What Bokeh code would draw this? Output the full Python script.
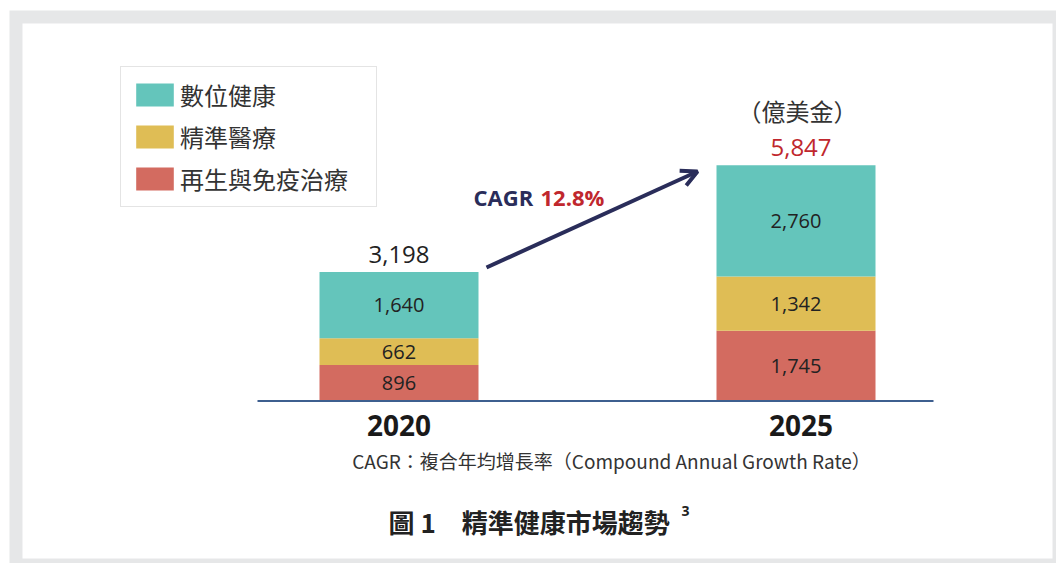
from bokeh.plotting import figure
from bokeh.models import Range1d, ColumnDataSource, Arrow, OpenHead, Legend, LegendItem
from bokeh.core.properties import value
from bokeh.embed import file_html
from bokeh.resources import INLINE

# ---------------- data ----------------
years = ["2020", "2025"]
digital = [1640, 2760]       # 數位健康
precision = [662, 1342]      # 精準醫療
regen = [896, 1745]          # 再生與免疫治療
series_names = ["數位健康", "精準醫療", "再生與免疫治療"]
unit_label = "（億美金）"
cagr_label = "CAGR"
cagr_value = "12.8%"
note = "CAGR：複合年均增長率（Compound Annual Growth Rate）"
title_text = "圖 1　精準健康市場趨勢"
title_sup = "3"

# ---------------- layout helpers (pixel -> data) ----------------
W, H = 1056, 563
PX_PER_UNIT = 0.0403
BASE_PX = 400.5
X0_PX, STEP_PX = 398.5, 397.0

def X(px):
    return (px - X0_PX) / STEP_PX

def Y(py):
    return (BASE_PX - py) / PX_PER_UNIT

CJK_S = "'Noto Sans CJK TC', 'Open Sans'"
LAT_S = "'Open Sans', 'Noto Sans CJK TC'"
CJK = value(CJK_S)
LAT = value(LAT_S)

teal, yellow, red = "#64c5bb", "#dfbd55", "#d36b60"

p = figure(width=W, height=H, output_backend="svg", toolbar_location=None,
           x_range=Range1d(X(0), X(W)), y_range=Range1d(Y(H), Y(0)),
           min_border=0, outline_line_color=None)
p.axis.visible = False
p.grid.visible = False
p.background_fill_color = "white"
p.border_fill_color = "white"

# grey frame
p.quad(left=X(9), right=X(W + 20), top=Y(10), bottom=Y(H + 20), fill_color="#e6e7e8", line_color=None)
p.quad(left=X(22), right=X(1052), top=Y(23), bottom=Y(558), fill_color="white", line_color=None)

# bars
xs = list(range(len(years)))
src = ColumnDataSource(dict(x=xs, regen=regen, precision=precision, digital=digital))
BW = 159 / STEP_PX
rs = p.vbar_stack(["regen", "precision", "digital"], x="x", width=BW, source=src,
                  fill_color=[red, yellow, teal], line_color=None)

# axis baseline
p.segment(x0=X(257), x1=X(933), y0=0, y1=0, line_color="#3e5f8f", line_width=2)

# segment labels
lx, ly, lt = [], [], []
for i in xs:
    b = 0
    for v in (regen[i], precision[i], digital[i]):
        lx.append(i); ly.append(b + v / 2); lt.append(f"{v:,}")
        b += v
p.text(x=lx, y=ly, text=lt, text_align="center", text_baseline="middle",
       text_font=LAT, text_font_size="20px", text_color="#222222")

# totals
totals = [regen[i] + precision[i] + digital[i] for i in xs]
off = 18 / PX_PER_UNIT
p.text(x=[0], y=[totals[0] + off], text=[f"{totals[0]:,}"], text_align="center",
       text_baseline="middle", text_font=LAT, text_font_size="24px", text_color="#222222")
p.text(x=[1 + 5 / STEP_PX], y=[totals[1] + off], text=[f"{totals[1]:,}"], text_align="center",
       text_baseline="middle", text_font=LAT, text_font_size="24px", text_color="#c0272d")
p.text(x=[X(797)], y=[Y(110)], text=[unit_label], text_align="center", text_baseline="middle",
       text_font=CJK, text_font_size="24px", text_color="#333333")

# year labels
p.text(x=[0, 1 + 5 / STEP_PX], y=[Y(425)] * 2, text=years, text_align="center",
       text_baseline="middle", text_font=LAT, text_font_size="28px",
       text_font_style="bold", text_color="#1a1a1a")

# CAGR arrow + label
p.add_layout(Arrow(end=OpenHead(size=16, line_color="#2a2d5a", line_width=4),
                   x_start=X(486), y_start=Y(267), x_end=X(697), y_end=Y(171),
                   line_color="#2a2d5a", line_width=4))
p.text(x=[X(473)], y=[Y(196)], text=[cagr_label], text_align="left", text_baseline="middle",
       text_font=LAT, text_font_size="22px", text_font_style="bold", text_color="#2a2d5a")
p.text(x=[X(540)], y=[Y(196)], text=[cagr_value], text_align="left", text_baseline="middle",
       text_font=LAT, text_font_size="22px", text_font_style="bold", text_color="#c0272d")

# footnote + caption
p.text(x=[X(611)], y=[Y(460)], text=[note], text_align="center", text_baseline="middle",
       text_font=CJK, text_font_size="19px", text_color="#333333")
p.text(x=[X(388)], y=[Y(521)], text=[title_text], text_align="left", text_baseline="middle",
       text_font=CJK, text_font_size="26px", text_font_style="bold", text_color="#222222")
p.text(x=[X(681)], y=[Y(510)], text=[title_sup], text_align="left", text_baseline="middle",
       text_font=LAT, text_font_size="14px", text_font_style="bold", text_color="#222222")

# legend
items = [LegendItem(label=series_names[0], renderers=[rs[2]]),
         LegendItem(label=series_names[1], renderers=[rs[1]]),
         LegendItem(label=series_names[2], renderers=[rs[0]])]
legend = Legend(items=items, location=(120, H - 207), orientation="vertical",
                glyph_width=47, glyph_height=29, label_standoff=2, spacing=7,
                padding=10, margin=0, label_text_font=CJK_S, label_text_font_size="24px",
                label_text_color="#333333", label_height=23, label_width=186,
                border_line_color="#c9c9c9", border_line_width=1.5,
                background_fill_color="white", background_fill_alpha=1)
p.add_layout(legend, "center")

open("out.html", "w").write(file_html(p, INLINE))
